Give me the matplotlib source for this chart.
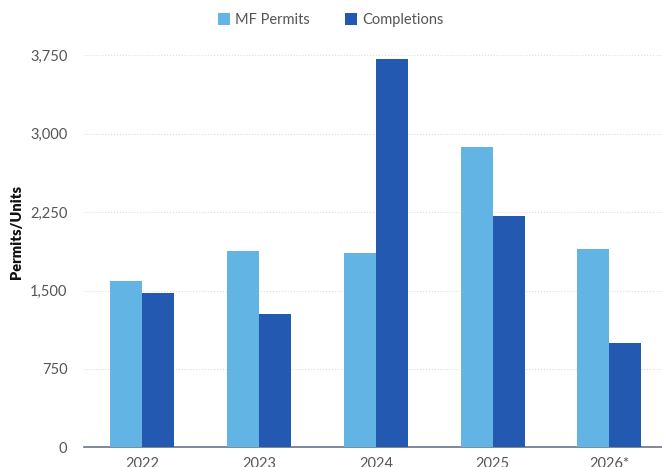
import matplotlib.pyplot as plt
import numpy as np

# Дані
years = ['2022', '2023', '2024', '2025', '2026*']
mf_permits = [1588, 1881, 1859, 2876, 1897]
completions = [1473, 1272, 3717, 2213, 998]
y_ticks = [0, 750, 1500, 2250, 3000, 3750]

plt.rcParams['font.family'] = ['Lato', 'DejaVu Sans']

fig = plt.figure(figsize=(6.62, 4.67), dpi=100)
ax = fig.add_axes([0.127, 0.042, 0.873, 0.8395])

x = np.arange(len(years))
w = 0.274
ax.bar(x - w / 2, mf_permits, w, color='#62b4e4', label='MF Permits', zorder=3)
ax.bar(x + w / 2, completions, w, color='#2459b2', label='Completions', zorder=3)

ax.set_xlim(-0.5, 4.45)
ax.set_ylim(0, 3750)
ax.set_yticks(y_ticks)
ax.set_yticklabels([f'{v:,}' for v in y_ticks])
ax.set_xticks(x)
ax.set_xticklabels(years)

ax.grid(axis='y', color='#dddddd', linestyle=':', linewidth=0.8, zorder=0)
for s in ['top', 'right', 'left']:
    ax.spines[s].set_visible(False)
ax.spines['bottom'].set_color('#6b7386')
ax.spines['bottom'].set_linewidth(1.2)
ax.tick_params(axis='both', length=0, labelsize=10.5, labelcolor='#555555')
ax.tick_params(axis='y', pad=12)
ax.tick_params(axis='x', pad=7)

ax.set_ylabel('Permits/Units', fontsize=10.5, fontweight='heavy', color='#111111')
ax.yaxis.set_label_coords(-0.105, 0.55)

fig.legend(loc='upper center', bbox_to_anchor=(0.5, 1.0), ncol=2, frameon=False,
           fontsize=10.5, handlelength=0.8, handleheight=0.8, columnspacing=2.4,
           handletextpad=0.4, labelcolor='#555555')

fig.savefig('out.png', dpi=100)
